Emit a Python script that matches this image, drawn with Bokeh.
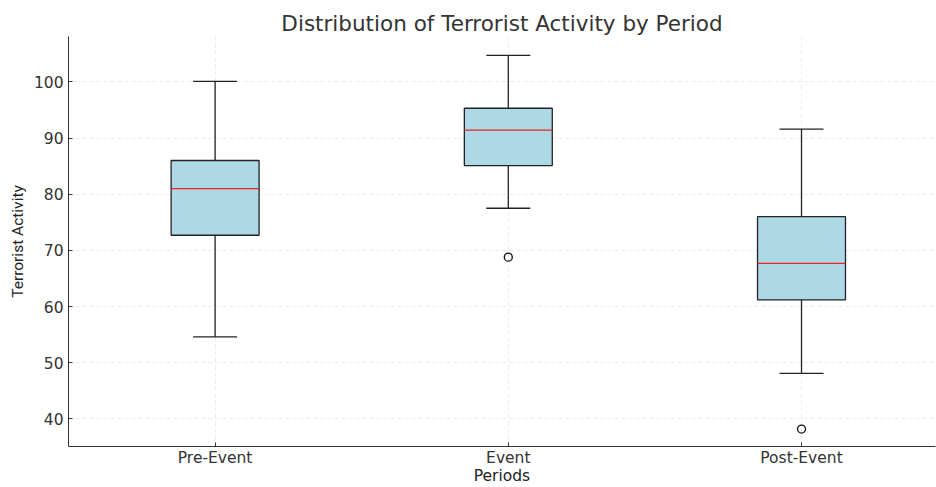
from bokeh.plotting import figure
from bokeh.models import FixedTicker, ColumnDataSource
from bokeh.embed import file_html
from bokeh.resources import INLINE

categories = ["Pre-Event", "Event", "Post-Event"]
positions = [1, 2, 3]
whisker_low = [54.6, 77.5, 48.1]
q1 = [72.7, 85.1, 61.2]
median = [81.0, 91.4, 67.7]
q3 = [86.0, 95.3, 76.0]
whisker_high = [100.1, 104.7, 91.6]
outlier_pos = [2, 3]
outlier_vals = [68.8, 38.2]
y_ticks = [40, 50, 60, 70, 80, 90, 100]

box_w = 0.3
cap_w = 0.15

src = ColumnDataSource(dict(
    x=positions, lo=whisker_low, q1=q1, med=median, q3=q3, hi=whisker_high,
    xl=[x - box_w / 2 for x in positions], xr=[x + box_w / 2 for x in positions],
    cl=[x - cap_w / 2 for x in positions], cr=[x + cap_w / 2 for x in positions],
))

p = figure(width=936, height=487, x_range=(0.5, 3.457), y_range=(35.1, 108.07),
           output_backend="svg", toolbar_location=None,
           min_border_left=68, min_border_right=1, min_border_top=36, min_border_bottom=35,
           title="Distribution of Terrorist Activity by Period")

p.title.text_font = "DejaVu Sans"
p.title.text_font_size = "21.5px"
p.title.text_font_style = "normal"
p.title.text_color = "#333333"
p.title.align = "center"
p.title.offset = 0
p.title.standoff = 2

# whiskers
p.segment(x0="x", y0="q3", x1="x", y1="hi", source=src, line_color="#222222", line_width=1.3)
p.segment(x0="x", y0="lo", x1="x", y1="q1", source=src, line_color="#222222", line_width=1.3)
p.segment(x0="cl", y0="hi", x1="cr", y1="hi", source=src, line_color="#222222", line_width=1.3)
p.segment(x0="cl", y0="lo", x1="cr", y1="lo", source=src, line_color="#222222", line_width=1.3)
# boxes
p.quad(left="xl", right="xr", bottom="q1", top="q3", source=src,
       fill_color="#ADD8E6", line_color="#222222", line_width=1.3)
# medians
p.segment(x0="xl", y0="med", x1="xr", y1="med", source=src, line_color="#EE2222", line_width=1.3)
# outliers
p.scatter(outlier_pos, outlier_vals, size=8, marker="circle", fill_color=None,
          line_color="#111111", line_width=1.3)

p.xaxis.ticker = FixedTicker(ticks=positions)
p.xaxis.major_label_overrides = {pos: c for pos, c in zip(positions, categories)}
p.yaxis.ticker = FixedTicker(ticks=y_ticks)

for ax in (p.xaxis, p.yaxis):
    ax.major_tick_in = 4
    ax.major_tick_out = 0
    ax.minor_tick_line_color = None
    ax.major_label_text_font = "DejaVu Sans"
    ax.major_label_text_font_size = "15.5px"
    ax.major_label_text_color = "#333333"
    ax.axis_label_text_font = "DejaVu Sans"
    ax.axis_label_text_font_size = "15.5px"
    ax.axis_label_text_font_style = "normal"
    ax.axis_label_text_color = "#222222"
    ax.axis_line_color = "#333333"
    ax.major_tick_line_color = "#333333"
    ax.major_label_standoff = 5
    ax.axis_label_standoff = 4

p.xaxis.axis_label = "Periods"
p.yaxis.axis_label = "Terrorist Activity"
p.yaxis.axis_label_text_font = "Roboto"
p.xaxis.major_label_standoff = 2
p.xaxis.axis_label_standoff = -3

p.grid.grid_line_color = "#e6e6e6"
p.grid.grid_line_dash = "4 3"
p.grid.grid_line_width = 0.8
p.outline_line_color = None

open("out.html", "w").write(file_html(p, INLINE))
